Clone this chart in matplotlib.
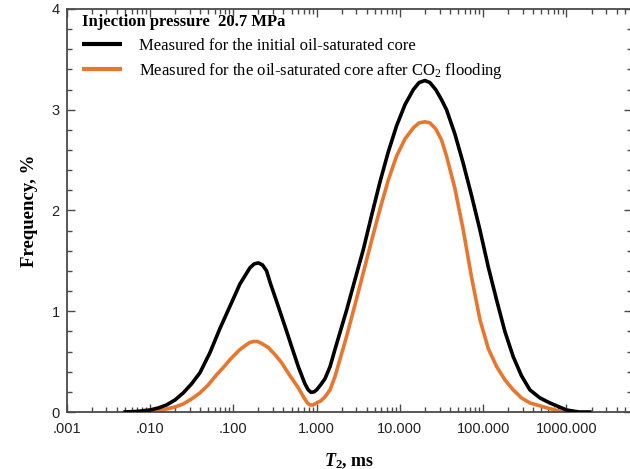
import matplotlib
matplotlib.use("Agg")
import matplotlib.pyplot as plt
from matplotlib.ticker import FixedLocator, FixedFormatter, LogLocator, MultipleLocator, NullFormatter


# T2 (ms) / frequency (%)
t2_initial = [0.0048, 0.0069, 0.010, 0.0126, 0.0158, 0.0200, 0.0251, 0.0316, 0.0398,
              0.0525, 0.0692, 0.0912, 0.120, 0.158, 0.178, 0.200, 0.224, 0.251, 0.278,
              0.324, 0.380, 0.437, 0.501, 0.603, 0.724, 0.794, 0.857, 0.933, 1.00,
              1.12, 1.26, 1.45, 1.66, 2.29, 2.88, 3.63, 4.57, 5.75, 7.24, 9.12,
              11.5, 14.5, 17.0, 20.0, 22.9, 26.9, 31.6, 36.3, 45.7, 57.5, 72.4,
              91.2, 115, 145, 182, 229, 288, 363, 479, 631, 1000, 1410, 2000]
freq_initial = [0.0, 0.005, 0.02, 0.04, 0.07, 0.12, 0.19, 0.28, 0.39,
                0.59, 0.83, 1.05, 1.27, 1.43, 1.47, 1.48, 1.46, 1.40, 1.28,
                1.12, 0.95, 0.80, 0.65, 0.45, 0.28, 0.22, 0.195, 0.20, 0.22,
                0.27, 0.33, 0.45, 0.62, 1.01, 1.31, 1.61, 1.95, 2.28, 2.58, 2.84,
                3.05, 3.20, 3.27, 3.29, 3.27, 3.20, 3.10, 3.00, 2.76, 2.47, 2.15,
                1.81, 1.44, 1.11, 0.80, 0.55, 0.36, 0.22, 0.14, 0.09, 0.02, 0.0, 0.0]

t2_after = [0.0048, 0.010, 0.0126, 0.0158, 0.0200, 0.0251, 0.0316, 0.0398, 0.0501,
            0.0631, 0.0794, 0.0912, 0.120, 0.145, 0.158, 0.174, 0.195, 0.219, 0.263,
            0.316, 0.380, 0.479, 0.603, 0.708, 0.776, 0.832, 0.912, 1.00, 1.12,
            1.26, 1.45, 1.66, 2.29, 2.88, 3.63, 4.57, 5.75, 7.24, 9.12, 11.5,
            14.5, 17.0, 20.0, 22.9, 26.9, 31.6, 36.3, 45.7, 57.5, 72.4, 91.2,
            115, 145, 182, 229, 288, 363, 589, 912]
freq_after = [0.0, 0.0, 0.01, 0.03, 0.05, 0.08, 0.13, 0.19, 0.27,
              0.37, 0.46, 0.52, 0.62, 0.67, 0.69, 0.70, 0.70, 0.68, 0.64,
              0.57, 0.49, 0.36, 0.24, 0.14, 0.09, 0.07, 0.07, 0.09, 0.11,
              0.15, 0.22, 0.35, 0.75, 1.06, 1.38, 1.70, 2.01, 2.30, 2.54, 2.71,
              2.82, 2.87, 2.88, 2.87, 2.81, 2.70, 2.54, 2.22, 1.81, 1.34, 0.92,
              0.63, 0.45, 0.32, 0.22, 0.14, 0.09, 0.04, 0.0]

x_ticks = [0.001, 0.01, 0.1, 1, 10, 100, 1000]
x_ticklabels = [".001", ".010", ".100", "1.000", "10.000", "100.000", "1000.000"]

LABEL_INITIAL = "Measured for the initial oil-saturated core"
LABEL_AFTER = "Measured for the oil-saturated core after CO$_2$ flooding"
LEGEND_TITLE = "Injection pressure  20.7 MPa"
ORANGE = "#E8762D"
SPINE = "#4a4a4a"

plt.rcParams["font.family"] = ["Liberation Sans", "DejaVu Sans"]
plt.rcParams["mathtext.fontset"] = "custom"
plt.rcParams["mathtext.rm"] = "Liberation Serif"
plt.rcParams["mathtext.it"] = "Liberation Serif:italic"
plt.rcParams["mathtext.bf"] = "Liberation Serif:bold"
plt.rcParams["mathtext.bfit"] = "Liberation Serif:italic:bold"

fig = plt.figure(figsize=(6.3, 4.69), dpi=100)
# right spine sits just past the figure edge, as in the cropped original
ax = fig.add_axes([66.7 / 630, 57 / 469, (632 - 66.7) / 630, 403 / 469])

ax.plot(t2_initial, freq_initial, color="black", lw=2.6, label=LABEL_INITIAL,
        solid_joinstyle="round", solid_capstyle="butt", zorder=3)
ax.plot(t2_after, freq_after, color=ORANGE, lw=2.6, label=LABEL_AFTER,
        solid_joinstyle="round", solid_capstyle="butt", zorder=2)

ax.set_xscale("log")
# 83.3 px per decade
ax.set_xlim(1e-3, 10 ** (-3 + (632 - 66.7) / 83.3))
ax.set_ylim(0, 4)

ax.xaxis.set_major_locator(FixedLocator(x_ticks))
ax.xaxis.set_major_formatter(FixedFormatter(x_ticklabels))
ax.xaxis.set_minor_locator(LogLocator(base=10, subs=range(2, 10)))
ax.xaxis.set_minor_formatter(NullFormatter())
ax.yaxis.set_major_locator(MultipleLocator(1))
ax.yaxis.set_minor_locator(MultipleLocator(0.2))

ax.tick_params(which="both", direction="in", top=True, right=True,
               color=SPINE, width=1.0, labelsize=10.5, labelcolor="#222222")
ax.tick_params(which="major", length=6)
ax.tick_params(which="minor", length=3.5)
ax.tick_params(axis="x", which="major", pad=7)
ax.tick_params(axis="y", which="major", pad=5)
for s in ax.spines.values():
    s.set_color(SPINE)
    s.set_linewidth(1.3)

ax.set_ylabel("Frequency, %", fontfamily="Liberation Serif", fontweight="bold",
              fontsize=13.5, labelpad=10)
ax.set_xlabel(r"$\mathbfit{T}_\mathbf{2}$, ms", fontfamily="Liberation Serif",
              fontweight="bold", fontsize=13, labelpad=11)

leg = ax.legend(loc="upper left", bbox_to_anchor=((82 - 66.7) / 565.3, 1 - 5 / 403),
                frameon=False, title=LEGEND_TITLE, alignment="left",
                prop={"family": "Liberation Serif", "size": 12},
                title_fontproperties={"family": "Liberation Serif", "weight": "bold", "size": 12},
                handlelength=2.4, handletextpad=1.0, labelspacing=0.45,
                borderpad=0, borderaxespad=0)
for h in leg.get_lines():
    h.set_linewidth(3.0)

fig.savefig("out.png", dpi=100)
